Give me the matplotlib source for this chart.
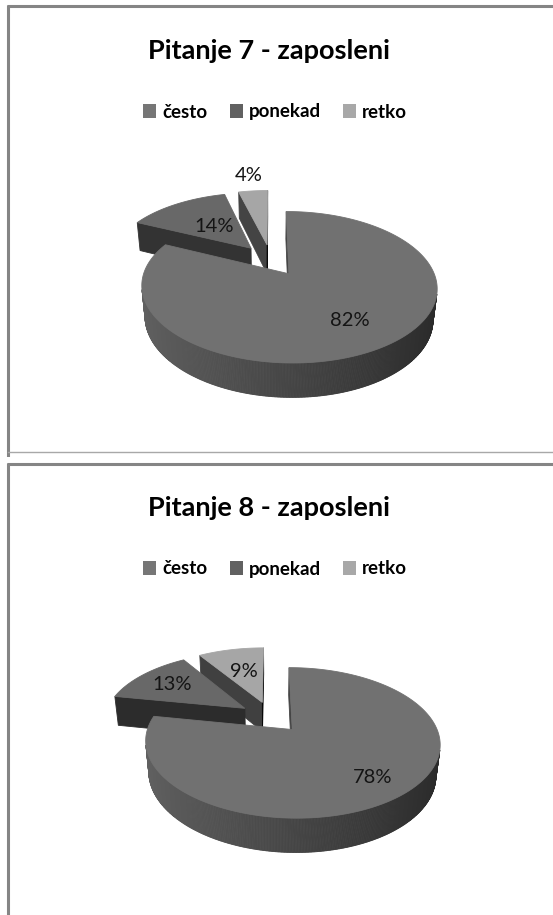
import numpy as np
import matplotlib
matplotlib.use('Agg')
import matplotlib.pyplot as plt
from matplotlib.patches import Polygon, Patch

plt.rcParams['font.family'] = ['Lato', 'DejaVu Sans']

categories = ['često', 'ponekad', 'retko']
titles = ['Pitanje 7 - zaposleni', 'Pitanje 8 - zaposleni']
values_p7 = [82, 14, 4]
values_p8 = [78, 13, 9]

top_colors = ['#717171', '#686868', '#a6a6a6']
legend_colors = ['#767676', '#616161', '#a8a8a8']
# how far out along the bisector each percentage label sits (1 = rim)
label_radius_p7 = [0.68, 0.47, 1.36]
label_radius_p8 = [0.76, 0.7, 0.55]

# perspective camera for the 3d pie (pixel units)
FOCAL = 712.0
DIST = 5.07
TILT = np.radians(29.2)
DEPTH = 0.25
EXPLODE = 0.23
CX, CY = 271, 260

cam = np.array([0.0, -DIST * np.cos(TILT), DIST * np.sin(TILT)])


def project(pts):
    pts = np.asarray(pts, dtype=float)
    u, v, z = pts[:, 0], pts[:, 1], pts[:, 2]
    c, s = np.cos(TILT), np.sin(TILT)
    w = DIST + v * c - z * s
    xs = FOCAL * u / w
    ys = FOCAL * (v * s + z * c) / w
    return np.column_stack([CX + xs, CY - ys])


def gray(b):
    b = float(np.clip(b, 0, 1))
    return (b, b, b)


def visible(face, normal):
    centre = np.mean(face, axis=0)
    return np.dot(cam - centre, normal) > 0


def draw_pie(ax, values, label_radius):
    total = float(sum(values))
    angles = np.cumsum([0] + list(values)) / total * 360.0
    slices = []
    for i, val in enumerate(values):
        a0, a1 = angles[i], angles[i + 1]
        mid = np.radians((a0 + a1) / 2)
        off = EXPLODE * np.array([np.sin(mid), np.cos(mid), 0.0])
        th = np.radians(np.linspace(a0, a1, max(4, int(a1 - a0) * 2)))
        rim = np.column_stack([np.sin(th), np.cos(th), np.zeros_like(th)]) + off
        low = rim - [0, 0, DEPTH]
        apex = off
        apex_low = off - [0, 0, DEPTH]

        sides = []
        # outer wall, in thin strips so it can be shaded round the rim
        for k in range(len(th) - 1):
            face = np.array([rim[k], rim[k + 1], low[k + 1], low[k]])
            m = (th[k] + th[k + 1]) / 2
            n = np.array([np.sin(m), np.cos(m), 0.0])
            if visible(face, n):
                sides.append((face, gray(0.27 - 0.11 * np.sin(m))))
        # the two cut faces
        for a, turn in ((a0, -90), (a1, 90)):
            r = np.radians(a)
            edge = off + [np.sin(r), np.cos(r), 0]
            face = np.array([apex, edge, edge - [0, 0, DEPTH], apex_low])
            na = np.radians(a + turn)
            n = np.array([np.sin(na), np.cos(na), 0.0])
            if visible(face, n):
                sides.append((face, gray(0.15 - 0.12 * np.sin(na))))

        top = np.vstack([apex, rim])
        dist = np.linalg.norm(cam - (off + 0.5 * np.array([np.sin(mid), np.cos(mid), 0])))
        lab = off + label_radius[i] * np.array([np.sin(mid), np.cos(mid), 0])
        slices.append((dist, sides, top, top_colors[i], lab, val))

    # paint back to front
    for dist, sides, top, col, lab, val in sorted(slices, key=lambda s: -s[0]):
        for face, shade in sides:
            ax.add_patch(Polygon(project(face), closed=True, facecolor=shade,
                                 edgecolor=shade, lw=0.6))
        ax.add_patch(Polygon(project(top), closed=True, facecolor=col,
                             edgecolor=col, lw=0.6))
    for dist, sides, top, col, lab, val in slices:
        x, y = project([lab])[0]
        ax.text(x, y, f'{val}%', ha='center', va='center', fontsize=14.5,
                color='#141414')


def draw_panel(ax, height, title, values, label_radius):
    ax.set_xlim(0, 553)
    ax.set_ylim(height, 0)
    ax.axis('off')
    # chart frame
    ax.plot([7, 553], [6.5, 6.5], color='#858585', lw=2.2, solid_capstyle='butt')
    ax.plot([8, 8], [5.5, height + 5], color='#858585', lw=2.2, solid_capstyle='butt')
    ax.text(269, 51, title, ha='center', va='center', fontsize=19.5,
            fontweight='bold', color='#000000')
    handles = [Patch(facecolor=c, edgecolor='none') for c in legend_colors]
    ax.legend(handles, categories, loc='center', bbox_to_anchor=(275, 112),
              bbox_transform=ax.transData, ncol=3, frameon=False,
              prop={'size': 13.5, 'weight': 'bold'}, handlelength=0.7,
              handleheight=0.7, handletextpad=0.3, columnspacing=1.2,
              borderpad=0)
    draw_pie(ax, values, label_radius)


fig = plt.figure(figsize=(5.53, 9.15), dpi=100)
ax1 = fig.add_axes([0, 1 - 457 / 915, 1, 457 / 915])
ax2 = fig.add_axes([0, 0, 1, 458 / 915])
draw_panel(ax1, 457, titles[0], values_p7, label_radius_p7)
ax1.plot([8, 553], [452.5, 452.5], color='#a8a8a8', lw=1.0)
draw_panel(ax2, 458, titles[1], values_p8, label_radius_p8)

fig.savefig('out.png', dpi=100)
